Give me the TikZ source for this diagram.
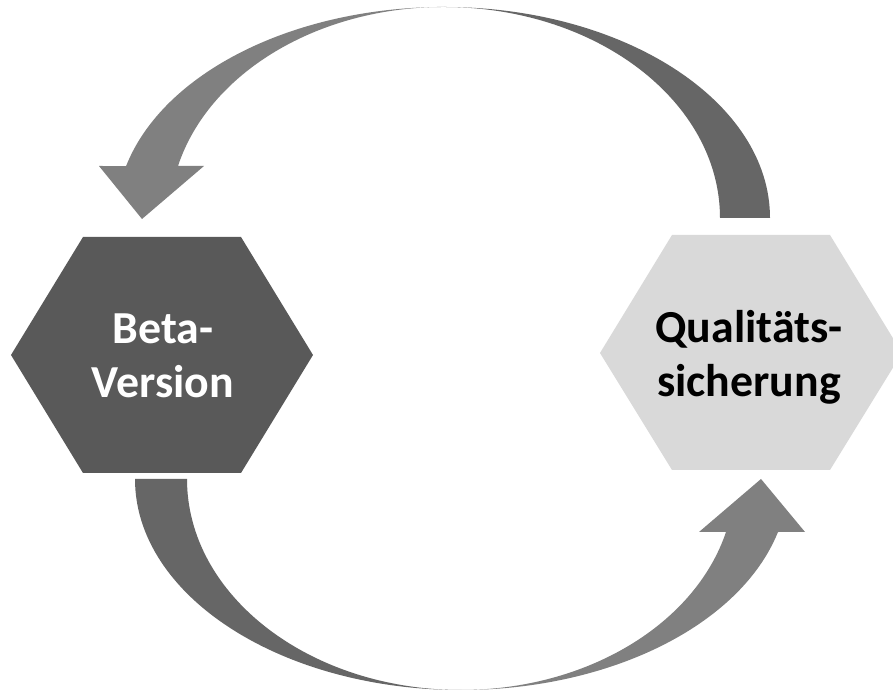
\documentclass[tikz,border=0pt]{standalone}
\usepackage{fontspec}
\setmainfont{Carlito}
\definecolor{hexdarkc}{HTML}{595959}
\definecolor{hexlightc}{HTML}{D9D9D9}
\definecolor{arrdarkc}{HTML}{666666}
\definecolor{arrlightc}{HTML}{808080}
\begin{document}
\begin{tikzpicture}[x=1bp,y=1bp,
  hexdark/.style={fill=hexdarkc},
  hexlight/.style={fill=hexlightc},
  arrdark/.style={fill=arrdarkc},
  arrlight/.style={fill=arrlightc},
  hexlabel/.style={font=\fontsize{46}{54}\selectfont\bfseries, align=center, inner sep=0pt}]
\useasboundingbox (0,0) rectangle (893,695);
\fill[white] (0,0) rectangle (893,695);
% hexagons
\fill[hexdark] (83,458) -- (241,458) -- (313,340) -- (241,222) -- (83,222) -- (11,340) -- cycle;
\fill[hexlight] (672,460) -- (830,460) -- (902,342) -- (830,225) -- (672,225) -- (600,342) -- cycle;
\node[hexlabel, text=white] (beta) at (163,339.5) {Beta-\\Version};
\node[hexlabel, text=black] (qs) at (749,337.5) {Qualitäts-\\sicherung};
% top arrow
\fill[arrdark] (770,477) arc[start angle=0,end angle=90,x radius=326,y radius=211]
  arc[start angle=90,end angle=0,x radius=276,y radius=211] -- cycle;
\fill[arrlight] (444,688) arc[start angle=90,end angle=165.75,x radius=328,y radius=211]
  -- (99,529) -- (142,476) -- (204,529) -- (178,529)
  arc[start angle=165.75,end angle=90,x radius=274.5,y radius=211] -- cycle;
% bottom arrow
\fill[arrdark] (135,216) arc[start angle=180,end angle=270,x radius=326,y radius=211]
  arc[start angle=270,end angle=180,x radius=274,y radius=211] -- cycle;
\fill[arrlight] (461,5) arc[start angle=270,end angle=345.45,x radius=327.5,y radius=211]
  -- (805,163) -- (761,216) -- (699,163) -- (726,163)
  arc[start angle=345.45,end angle=270,x radius=273.8,y radius=211] -- cycle;
\end{tikzpicture}
\end{document}
